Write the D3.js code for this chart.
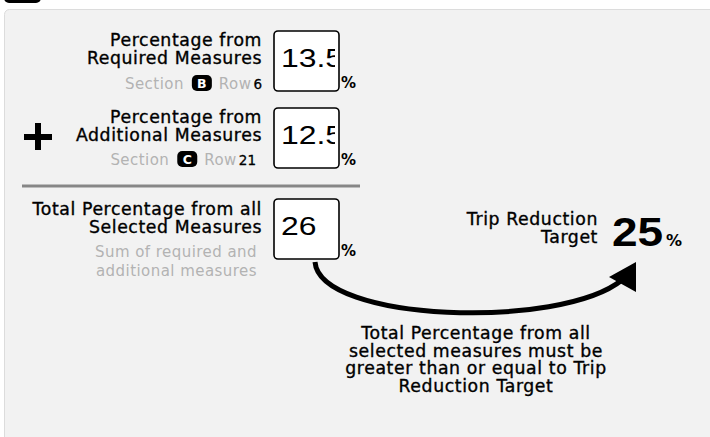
<!DOCTYPE html>
<html>
<head>
<meta charset="utf-8">
<script src="https://cdn.jsdelivr.net/npm/d3@7"></script>
<style>
  body { margin: 0; background: #fff; }
  text { font-family: "DejaVu Sans", sans-serif; }
  .lbl { font-size: 17.3px; letter-spacing: 0.6px; fill: #000; stroke: #000; stroke-width: 0.35px; }
  .grey { font-size: 15px; letter-spacing: 0.45px; fill: #b3b3b3; }
</style>
</head>
<body>
<script>
// values shown in the boxes
var measureTitles = [['Percentage from', 'Required Measures'], ['Percentage from', 'Additional Measures'], ['Total Percentage from all', 'Selected Measures']];
var measureValues = ['13.5', '12.5', '26'];
var sectionLetters = ['B', 'C'];
var sectionRows = ['6', '21'];
var sumNote = ['Sum of required and', 'additional measures'];
var targetLabel = ['Trip Reduction', 'Target'];
var targetValue = 25;
var footNote = ['Total Percentage from all', 'selected measures must be', 'greater than or equal to Trip', 'Reduction Target'];

var width = 710, height = 437;
var svg = d3.select('body').append('svg').attr('width', width).attr('height', height);

// top tab + panel
svg.append('rect').attr('x', 4).attr('y', -12).attr('width', 37).attr('height', 15).attr('rx', 5).attr('fill', '#000');
svg.append('rect').attr('x', 4.5).attr('y', 9.5).attr('width', 720).attr('height', 440).attr('rx', 5)
    .attr('fill', '#f2f2f2').attr('stroke', '#dcdcdc');

var rowY = d3.scaleOrdinal().domain([0, 1, 2]).range([31, 108, 199]);   // top of each box
var textX = 262, boxX = 274, boxW = 65, boxH = 60;

var defs = svg.append('defs');
measureValues.forEach(function(v, i) {
    defs.append('clipPath').attr('id', 'clip' + i)
        .append('rect').attr('x', boxX + 2).attr('y', rowY(i)).attr('width', boxW - 6).attr('height', boxH);
});

var rows = svg.selectAll('.row').data(measureValues).enter().append('g').attr('class', 'row');

rows.append('rect')
    .attr('x', boxX).attr('y', (d, i) => rowY(i))
    .attr('width', boxW).attr('height', boxH).attr('rx', 4)
    .attr('fill', '#fff').attr('stroke', '#000').attr('stroke-width', 1.6);

rows.append('g').attr('clip-path', (d, i) => 'url(#clip' + i + ')')
    .append('text')
    .attr('transform', (d, i) => `translate(${boxX + 7},${rowY(i) + 36}) scale(1.25,1)`)
    .style('font-family', '"Liberation Sans", Arial, sans-serif')
    .style('font-size', '25.5px').attr('fill', '#000')
    .text(d => d);

rows.append('text')
    .attr('x', boxX + boxW + 2).attr('y', (d, i) => rowY(i) + 57)
    .style('font-size', '15px').style('font-weight', 700).attr('fill', '#000')
    .text('%');

// titles
measureTitles.forEach(function(lines, i) {
    var base = [46, 123, 215][i];
    lines.forEach(function(l, j) {
        svg.append('text').attr('class', 'lbl').attr('x', textX).attr('y', base + j * 17.5)
            .attr('text-anchor', 'end').text(l);
    });
});

// Section X Row N lines
sectionLetters.forEach(function(s, i) {
    var y = [89, 165][i];
    var right = [262, 256][i];
    var g = svg.append('g');
    var num = g.append('text').attr('x', right).attr('y', y).attr('text-anchor', 'end')
        .style('font-size', '13.5px').attr('fill', '#000').attr('stroke', '#000').attr('stroke-width', 0.3)
        .text(sectionRows[i]);
    var nw = num.node().getComputedTextLength();
    var rowText = g.append('text').attr('class', 'grey').attr('x', right - nw - 2).attr('y', y).attr('text-anchor', 'end')
        .text('Row');
    var rw = rowText.node().getComputedTextLength();
    var bx = right - nw - 2 - rw - 27;
    g.append('rect').attr('x', bx).attr('y', y - 14).attr('width', 20).attr('height', 16).attr('rx', 5).attr('fill', '#000');
    g.append('text').attr('x', bx + 10).attr('y', y - 1.5).attr('text-anchor', 'middle')
        .style('font-size', '12.5px').style('font-weight', 700).attr('fill', '#fff').text(s);
    g.append('text').attr('class', 'grey').attr('x', bx - 8).attr('y', y).attr('text-anchor', 'end')
        .text('Section');
});

// plus sign
svg.append('rect').attr('x', 24).attr('y', 134).attr('width', 28).attr('height', 6).attr('fill', '#000');
svg.append('rect').attr('x', 35).attr('y', 123).attr('width', 6).attr('height', 27).attr('fill', '#000');

// separator
svg.append('line').attr('x1', 22).attr('x2', 360).attr('y1', 186).attr('y2', 186)
    .attr('stroke', '#878787').attr('stroke-width', 3);

sumNote.forEach(function(l, j) {
    svg.append('text').attr('class', 'grey').attr('x', 257).attr('y', 257 + j * 19).attr('text-anchor', 'end')
        .text(l);
});

// target
targetLabel.forEach(function(l, j) {
    svg.append('text').attr('class', 'lbl').attr('x', 598).attr('y', 225 + j * 18).attr('text-anchor', 'end')
        .text(l);
});
svg.append('text').attr('transform', 'translate(612,246) scale(1.15,1)')
    .style('font-family', '"Liberation Sans", Arial, sans-serif')
    .style('font-size', '40px').style('font-weight', 700).attr('fill', '#000')
    .text(targetValue);
svg.append('text').attr('x', 666).attr('y', 246)
    .style('font-size', '16px').style('font-weight', 700).attr('fill', '#000').text('%');

// arrow
var p = d3.path();
p.moveTo(315, 262);
p.bezierCurveTo(320, 322, 560, 330, 622, 280);
svg.append('path').attr('d', p.toString())
    .attr('fill', 'none').attr('stroke', '#000').attr('stroke-width', 5);
svg.append('path').attr('d', 'M636,262 L609,277 L636,292 Z').attr('fill', '#000');

footNote.forEach(function(l, j) {
    svg.append('text').attr('class', 'lbl').attr('x', 476).attr('y', 339 + j * 17.5).attr('text-anchor', 'middle')
        .text(l);
});
</script>
</body>
</html>
